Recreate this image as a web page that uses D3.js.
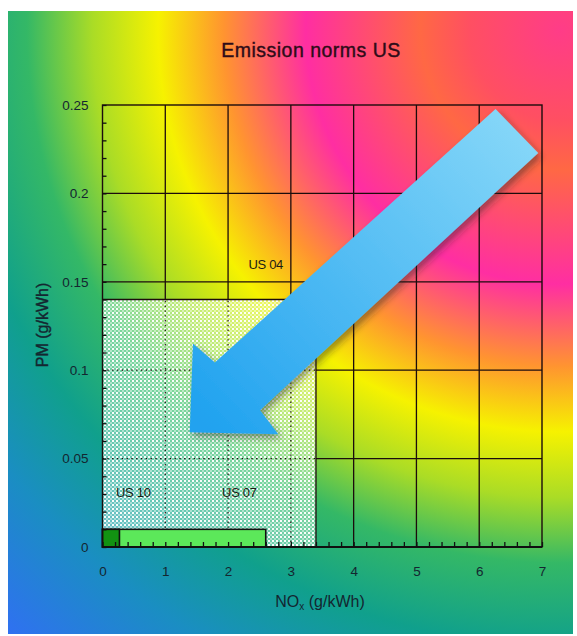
<!DOCTYPE html>
<html>
<head>
<meta charset="utf-8">
<script src="https://cdn.jsdelivr.net/npm/d3@7"></script>
<style>
  body { margin: 0; background: #fff; }
  svg { display: block; font-family: "Liberation Sans", Arial, sans-serif; }
</style>
</head>
<body>
<svg id="chart"></svg>
<script>
// chart values
var xTicks = [0, 1, 2, 3, 4, 5, 6, 7];
var yTicks = [0, 0.05, 0.1, 0.15, 0.2, 0.25];
var yTickLabels = ["0", "0.05", "0.1", "0.15", "0.2", "0.25"];

var norms = ["US 04", "US 07", "US 10"];
var normNOx = [3.4, 2.6, 0.27];   // g/kWh
var normPM = [0.14, 0.01, 0.01];  // g/kWh
var normFill = ["url(#dots)", "#5ce85a", "#129212"];

// where the norm names sit, in data units
var labelNOx = [2.6, 2.18, 0.49];
var labelPM = [0.157, 0.028, 0.028];

// big arrow outline, in data units (NOx, PM)
var arrowPts = [
  [6.26, 0.2477], [6.94, 0.2229], [2.51, 0.0773], [2.80, 0.0638],
  [1.39, 0.0649], [1.44, 0.1151], [1.79, 0.1044]
];

var width = 577, height = 636;

var svg = d3.select("#chart")
  .attr("width", width)
  .attr("height", height);

var x = d3.scaleLinear().domain([0, 7]).range([102.5, 542]);
var y = d3.scaleLinear().domain([0, 0.25]).range([547, 105]);

var defs = svg.append("defs");

// background, rings around the top right corner
var bg = defs.append("radialGradient")
  .attr("id", "bg")
  .attr("gradientUnits", "userSpaceOnUse")
  .attr("cx", 560).attr("cy", 30).attr("r", 820);
[[0, "#ff3c88"], [0.11, "#ff4f62"], [0.17, "#ff6844"], [0.31, "#ff2ea2"],
 [0.41, "#ff9430"], [0.49, "#f6f200"], [0.57, "#aadc26"], [0.65, "#34b866"],
 [0.75, "#10a08c"], [0.86, "#1a8ec2"], [1, "#3070f2"]].forEach(function(s) {
  bg.append("stop").attr("offset", s[0]).attr("stop-color", s[1]);
});

var dots = defs.append("pattern")
  .attr("id", "dots")
  .attr("patternUnits", "userSpaceOnUse")
  .attr("width", 4).attr("height", 4);
dots.append("rect").attr("width", 4).attr("height", 4)
  .attr("fill", "#dcffe6").attr("opacity", 0.42);
dots.append("rect").attr("x", 0).attr("y", 0).attr("width", 2).attr("height", 2)
  .attr("fill", "#fff").attr("opacity", 0.95);
dots.append("rect").attr("x", 2).attr("y", 2).attr("width", 2).attr("height", 2)
  .attr("fill", "#fff").attr("opacity", 0.45);

var arrowGrad = defs.append("linearGradient")
  .attr("id", "arrowGrad")
  .attr("gradientUnits", "userSpaceOnUse")
  .attr("x1", x(6.6)).attr("y1", y(0.235))
  .attr("x2", x(1.6)).attr("y2", y(0.07));
arrowGrad.append("stop").attr("offset", 0).attr("stop-color", "#84d6f8");
arrowGrad.append("stop").attr("offset", 1).attr("stop-color", "#20a2ef");

var shadow = defs.append("filter")
  .attr("id", "shadow")
  .attr("x", "-20%").attr("y", "-20%").attr("width", "140%").attr("height", "140%");
shadow.append("feDropShadow")
  .attr("dx", 3).attr("dy", 4).attr("stdDeviation", 3.5)
  .attr("flood-color", "#202020").attr("flood-opacity", 0.45);

svg.append("rect")
  .attr("x", 8).attr("y", 11)
  .attr("width", 565).attr("height", 623)
  .attr("fill", "url(#bg)");

// title
svg.append("text")
  .attr("x", 311).attr("y", 57)
  .attr("text-anchor", "middle")
  .attr("font-size", 19.5)
  .attr("letter-spacing", "0.5px")
  .attr("fill", "#2e0c18")
  .attr("stroke", "#2e0c18").attr("stroke-width", 0.4)
  .text("Emission norms US");

// US 04 area
var us04 = { nox: normNOx[0], pm: normPM[0] };
svg.append("rect")
  .attr("x", x(0)).attr("y", y(us04.pm))
  .attr("width", x(us04.nox) - x(0))
  .attr("height", y(0) - y(us04.pm))
  .attr("fill", normFill[0]);

// grid: solid outside the US 04 area, dotted inside it
var grid = svg.append("g")
  .attr("stroke", "#1c0c0c")
  .attr("stroke-width", 1.3)
  .attr("fill", "none");

xTicks.slice(1, -1).forEach(function(v) {
  var inside = v < us04.nox;
  grid.append("line")
    .attr("x1", x(v)).attr("x2", x(v))
    .attr("y1", inside ? y(us04.pm) : y(0)).attr("y2", y(0.25));
  if (inside) {
    grid.append("line")
      .attr("x1", x(v)).attr("x2", x(v))
      .attr("y1", y(0)).attr("y2", y(us04.pm))
      .attr("stroke-width", 1.2)
      .attr("stroke-dasharray", "1.4,3.4");
  }
});
yTicks.slice(1, -1).forEach(function(v) {
  var inside = v < us04.pm;
  grid.append("line")
    .attr("y1", y(v)).attr("y2", y(v))
    .attr("x1", inside ? x(us04.nox) : x(0)).attr("x2", x(7));
  if (inside) {
    grid.append("line")
      .attr("y1", y(v)).attr("y2", y(v))
      .attr("x1", x(0)).attr("x2", x(us04.nox))
      .attr("stroke-width", 1.2)
      .attr("stroke-dasharray", "1.4,3.4");
  }
});

// edge of the US 04 area
grid.append("path")
  .attr("d", "M" + x(0) + "," + y(us04.pm) +
             "H" + x(us04.nox) + "V" + y(0));

// US 07 and US 10 bars
svg.selectAll(".bar")
  .data([1, 2])
  .enter().append("rect")
  .attr("class", "bar")
  .attr("x", x(0))
  .attr("y", function(i) { return y(normPM[i]); })
  .attr("width", function(i) { return x(normNOx[i]) - x(0); })
  .attr("height", function(i) { return y(0) - y(normPM[i]); })
  .attr("fill", function(i) { return normFill[i]; })
  .attr("stroke", "#101010")
  .attr("stroke-width", 1.6);

// plot frame
svg.append("rect")
  .attr("x", x(0)).attr("y", y(0.25))
  .attr("width", x(7) - x(0)).attr("height", y(0) - y(0.25))
  .attr("fill", "none")
  .attr("stroke", "#1c0c0c")
  .attr("stroke-width", 1.4);
svg.append("line")
  .attr("x1", x(0)).attr("x2", x(7))
  .attr("y1", y(0)).attr("y2", y(0))
  .attr("stroke", "#101010").attr("stroke-width", 2.2);

// minor ticks, pointing into the plot
svg.append("g")
  .attr("transform", "translate(0," + y(0) + ")")
  .call(d3.axisBottom(x).tickValues(d3.range(0, 36).map(function(i) { return i / 5; }))
    .tickSize(-5).tickFormat(""))
  .call(function(g) { g.select(".domain").remove(); })
  .selectAll("line").attr("stroke", "#101010").attr("stroke-width", 1.3);
svg.append("g")
  .attr("transform", "translate(" + x(0) + ",0)")
  .call(d3.axisLeft(y).tickValues(d3.range(0, 26).map(function(i) { return i / 100; }))
    .tickSize(-4).tickFormat(""))
  .call(function(g) { g.select(".domain").remove(); })
  .selectAll("line").attr("stroke", "#101010").attr("stroke-width", 1.3);

// tick labels
var xAxis = svg.append("g")
  .attr("transform", "translate(0," + y(0) + ")")
  .call(d3.axisBottom(x).tickValues(xTicks).tickSize(0).tickPadding(19).tickFormat(d3.format("d")));
var yAxis = svg.append("g")
  .attr("transform", "translate(" + x(0) + ",0)")
  .call(d3.axisLeft(y).tickValues(yTicks).tickSize(0).tickPadding(14)
    .tickFormat(function(d, i) { return yTickLabels[i]; }));
[xAxis, yAxis].forEach(function(g) {
  g.select(".domain").remove();
  g.selectAll("text")
    .attr("font-family", "Liberation Sans, Arial, sans-serif")
    .attr("font-size", 13.5)
    .attr("fill", "#142630");
});

// norm names
svg.selectAll(".norm")
  .data(norms)
  .enter().append("text")
  .attr("class", "norm")
  .attr("x", function(d, i) { return x(labelNOx[i]); })
  .attr("y", function(d, i) { return y(labelPM[i]); })
  .attr("text-anchor", "middle")
  .attr("font-size", 13)
  .attr("letter-spacing", "-0.3px")
  .attr("fill", "#1c1c14")
  .text(function(d) { return d; });

// axis titles
var xTitle = svg.append("text")
  .attr("x", 320).attr("y", 607)
  .attr("text-anchor", "middle")
  .attr("font-size", 16)
  .attr("fill", "#142630");
xTitle.append("tspan").text("NO");
xTitle.append("tspan").attr("font-size", 10).attr("dy", 3).text("x");
xTitle.append("tspan").attr("dy", -3).text(" (g/kWh)");

svg.append("text")
  .attr("transform", "translate(48,325) rotate(-90)")
  .attr("text-anchor", "middle")
  .attr("font-size", 16)
  .attr("fill", "#142630")
  .attr("stroke", "#142630").attr("stroke-width", 0.4)
  .text("PM (g/kWh)");

// the arrow
svg.append("path")
  .attr("d", d3.line().x(function(p) { return x(p[0]); }).y(function(p) { return y(p[1]); })
    .curve(d3.curveLinearClosed)(arrowPts))
  .attr("fill", "url(#arrowGrad)")
  .attr("filter", "url(#shadow)");
</script>
</body>
</html>
